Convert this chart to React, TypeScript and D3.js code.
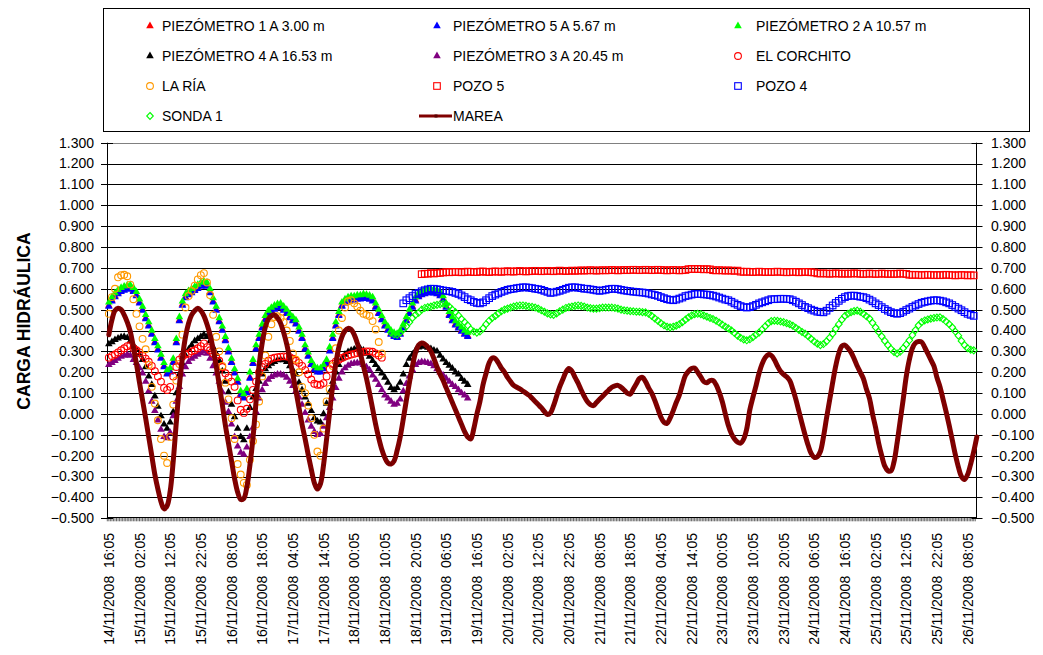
import React from 'react';
import * as d3 from 'd3';

const W = 1043;
const H = 655;

// ---------------- DATA (hourly readings, t = hours since 14/11/2008 16:05) ----------------
const xLabels = [
  '14/11/2008  16:05', '15/11/2008  02:05', '15/11/2008  12:05', '15/11/2008  22:05',
  '16/11/2008  08:05', '16/11/2008  18:05', '17/11/2008  04:05', '17/11/2008  14:05',
  '18/11/2008  00:05', '18/11/2008  10:05', '18/11/2008  20:05', '19/11/2008  06:05',
  '19/11/2008  16:05', '20/11/2008  02:05', '20/11/2008  12:05', '20/11/2008  22:05',
  '21/11/2008  08:05', '21/11/2008  18:05', '22/11/2008  04:05', '22/11/2008  14:05',
  '23/11/2008  00:05', '23/11/2008  10:05', '23/11/2008  20:05', '24/11/2008  06:05',
  '24/11/2008  16:05', '25/11/2008  02:05', '25/11/2008  12:05', '25/11/2008  22:05',
  '26/11/2008  08:05',
];
const xLabelHours = [0, 10, 20, 30, 40, 50, 60, 70, 80, 90, 100, 110, 120, 130, 140, 150, 160, 170, 180, 190, 200, 210, 220, 230, 240, 250, 260, 270, 280];
const yTicks = [-0.5, -0.4, -0.3, -0.2, -0.1, 0, 0.1, 0.2, 0.3, 0.4, 0.5, 0.6, 0.7, 0.8, 0.9, 1.0, 1.1, 1.2, 1.3];

const pz1Start = 0;
const pz1 = [0.52,0.545,0.565,0.58,0.59,0.597,0.602,0.603,0.59,0.57,0.535,0.5,0.46,0.425,0.385,0.345,0.31,0.27,0.23,0.195,0.205,0.25,0.345,0.45,0.525,0.56,0.575,0.585,0.595,0.605,0.615,0.62,0.615,0.585,0.54,0.5,0.445,0.405,0.355,0.3,0.25,0.2,0.155,0.095,0.08,0.105,0.175,0.245,0.315,0.365,0.415,0.455,0.48,0.495,0.505,0.513,0.515,0.5,0.485,0.465,0.45,0.435,0.4,0.365,0.315,0.28,0.24,0.215,0.205,0.205,0.22,0.245,0.305,0.365,0.425,0.475,0.52,0.535,0.545,0.55,0.55,0.555,0.555,0.56,0.557,0.553,0.545,0.515,0.485,0.455,0.425,0.405,0.385,0.375,0.37,0.385,0.415,0.45,0.485,0.515,0.545,0.565,0.575,0.58,0.585,0.585,0.583,0.58,0.57,0.55,0.515,0.475,0.45,0.43,0.415,0.4,0.385,0.375];

const pz5Start = 0;
const pz5 = [0.515,0.54,0.56,0.575,0.585,0.592,0.597,0.598,0.585,0.565,0.53,0.495,0.455,0.42,0.38,0.34,0.305,0.265,0.225,0.19,0.2,0.245,0.34,0.445,0.52,0.555,0.57,0.58,0.59,0.60,0.61,0.615,0.61,0.58,0.535,0.495,0.44,0.40,0.35,0.295,0.245,0.195,0.15,0.09,0.075,0.10,0.17,0.24,0.31,0.36,0.41,0.45,0.475,0.49,0.50,0.508,0.51,0.495,0.48,0.46,0.445,0.43,0.395,0.36,0.31,0.275,0.235,0.21,0.20,0.20,0.215,0.24,0.30,0.36,0.42,0.47,0.515,0.53,0.54,0.545,0.545,0.55,0.55,0.555,0.552,0.548,0.54,0.51,0.48,0.45,0.42,0.40,0.38,0.37,0.365,0.38,0.41,0.445,0.48,0.51,0.54,0.56,0.57,0.575,0.58,0.58,0.578,0.575,0.565,0.545,0.51,0.47,0.445,0.425,0.41,0.395,0.38,0.37];

const pz2Start = 0;
const pz2 = [0.535,0.56,0.58,0.595,0.605,0.612,0.617,0.618,0.605,0.585,0.55,0.515,0.475,0.44,0.40,0.36,0.325,0.285,0.245,0.21,0.22,0.265,0.36,0.465,0.54,0.575,0.59,0.60,0.61,0.62,0.63,0.635,0.63,0.60,0.555,0.515,0.46,0.42,0.37,0.315,0.265,0.215,0.17,0.11,0.095,0.12,0.2,0.26,0.33,0.38,0.43,0.47,0.495,0.51,0.52,0.528,0.53,0.515,0.50,0.48,0.465,0.45,0.415,0.38,0.33,0.295,0.255,0.23,0.22,0.22,0.235,0.26,0.32,0.38,0.44,0.49,0.535,0.55,0.56,0.565,0.565,0.57,0.57,0.575,0.572,0.568,0.56,0.53,0.50,0.47,0.44,0.42,0.40,0.39,0.385,0.40,0.43,0.465,0.50,0.53,0.56,0.58,0.59,0.595,0.60,0.60,0.598,0.595,0.585,0.565,0.53,0.49,0.465,0.445,0.43,0.415,0.40,0.39];

const pz4Start = 0;
const pz4 = [0.335,0.345,0.355,0.362,0.368,0.37,0.365,0.35,0.33,0.31,0.285,0.26,0.225,0.18,0.14,0.085,0.035,-0.01,-0.05,-0.07,-0.04,0.01,0.10,0.19,0.24,0.28,0.31,0.33,0.35,0.36,0.37,0.38,0.37,0.35,0.32,0.29,0.255,0.205,0.155,0.105,0.045,-0.015,-0.07,-0.11,-0.125,-0.07,0.03,0.08,0.12,0.155,0.19,0.215,0.23,0.242,0.25,0.258,0.26,0.258,0.25,0.23,0.21,0.19,0.15,0.115,0.08,0.05,0.015,-0.02,-0.035,-0.04,0.0,0.05,0.105,0.155,0.2,0.235,0.265,0.285,0.298,0.305,0.31,0.315,0.313,0.305,0.29,0.275,0.255,0.235,0.215,0.195,0.175,0.15,0.125,0.115,0.125,0.15,0.19,0.235,0.265,0.285,0.305,0.32,0.325,0.323,0.318,0.312,0.305,0.3,0.28,0.262,0.245,0.232,0.218,0.2,0.19,0.168,0.155,0.14];

const pz3Start = 0;
const pz3 = [0.235,0.245,0.255,0.265,0.275,0.28,0.285,0.28,0.26,0.245,0.22,0.195,0.155,0.11,0.06,0.015,-0.03,-0.075,-0.11,-0.115,-0.09,-0.01,0.06,0.13,0.19,0.225,0.25,0.265,0.275,0.285,0.292,0.3,0.29,0.265,0.23,0.195,0.155,0.105,0.055,0.01,-0.05,-0.11,-0.155,-0.185,-0.195,-0.16,-0.11,-0.065,0.01,0.075,0.115,0.145,0.165,0.178,0.185,0.19,0.19,0.185,0.175,0.155,0.135,0.11,0.08,0.045,0.005,-0.03,-0.06,-0.085,-0.1,-0.095,-0.06,-0.02,0.03,0.075,0.125,0.17,0.2,0.22,0.232,0.24,0.243,0.245,0.243,0.235,0.225,0.21,0.185,0.165,0.14,0.115,0.09,0.075,0.06,0.045,0.05,0.07,0.11,0.145,0.18,0.21,0.235,0.245,0.25,0.248,0.245,0.24,0.23,0.215,0.2,0.185,0.17,0.155,0.14,0.13,0.115,0.1,0.09,0.075];

const corchitoStart = 0;
const corchito = [0.27,0.278,0.285,0.295,0.305,0.315,0.325,0.33,0.315,0.305,0.295,0.28,0.265,0.25,0.23,0.205,0.18,0.155,0.125,0.115,0.13,0.18,0.225,0.26,0.275,0.285,0.29,0.3,0.305,0.315,0.325,0.338,0.32,0.305,0.29,0.275,0.255,0.225,0.195,0.175,0.155,0.13,0.065,0.02,0.005,0.025,0.07,0.115,0.155,0.2,0.225,0.24,0.255,0.265,0.27,0.272,0.275,0.276,0.275,0.272,0.265,0.255,0.245,0.23,0.21,0.19,0.165,0.145,0.14,0.14,0.148,0.18,0.215,0.24,0.252,0.26,0.268,0.275,0.28,0.285,0.288,0.292,0.295,0.298,0.3,0.3,0.298,0.29,0.28,0.27];

const riaStart = 0;
const ria = [0.48,0.56,0.60,0.655,0.665,0.667,0.66,0.62,0.55,0.48,0.42,0.36,0.31,0.235,0.13,0.05,-0.03,-0.12,-0.2,-0.235,-0.11,0.045,0.16,0.24,0.38,0.51,0.565,0.59,0.615,0.645,0.665,0.675,0.63,0.57,0.475,0.37,0.3,0.23,0.15,0.07,-0.02,-0.12,-0.24,-0.29,-0.33,-0.34,-0.22,-0.13,-0.05,0.06,0.18,0.28,0.37,0.43,0.465,0.468,0.46,0.44,0.4,0.35,0.29,0.26,0.2,0.13,0.1,0.04,-0.02,-0.1,-0.18,-0.2,-0.07,0.06,0.12,0.23,0.315,0.4,0.46,0.51,0.54,0.545,0.53,0.515,0.495,0.48,0.475,0.47,0.445,0.405,0.345,0.29];

const pozo5Start = 102;
const pozo5 = [0.670,0.672,0.672,0.675,0.673,0.675,0.676,
  0.678,0.680,0.679,0.680,0.681,0.680,0.679,0.680,0.682,0.681,0.680,0.680,0.682,0.683,0.681,0.680,0.682,0.683,0.682,0.681,0.683,0.684,
  0.683,0.682,0.684,0.685,0.684,0.683,0.684,0.685,0.686,0.685,0.684,0.685,0.686,0.685,0.684,0.686,0.687,0.686,0.685,0.686,0.687,0.686,0.687,
  0.688,0.687,0.688,0.689,0.688,0.687,0.688,0.689,0.688,0.689,0.690,0.689,0.688,0.689,0.690,0.689,0.690,0.691,0.690,0.689,0.690,0.691,0.690,0.689,0.690,0.691,0.690,0.689,0.688,0.689,0.690,0.689,0.688,0.689,0.690,
  0.694,0.695,0.694,0.695,0.694,0.693,0.694,0.693,
  0.689,0.688,0.689,0.688,0.687,0.688,0.687,0.686,0.687,
  0.682,0.681,0.682,0.681,0.680,0.681,0.682,0.681,0.680,0.681,0.680,0.681,0.682,0.681,0.680,0.679,0.680,0.681,0.680,0.679,0.680,0.681,0.680,0.679,0.678,
  0.674,0.673,0.674,0.673,0.672,0.673,0.674,0.673,0.672,0.673,0.672,0.673,0.674,0.673,0.672,0.671,0.672,0.673,0.672,0.671,0.672,0.673,0.672,0.671,0.672,0.671,0.672,0.673,0.672,0.671,
  0.667,0.666,0.667,0.666,0.665,0.666,0.667,0.666,0.665,0.666,0.665,0.666,0.667,0.666,0.665,0.664,0.665,0.666,0.665,0.664,0.665,0.664];

const pozo4Start = 96;
const pozo4 = [0.53,0.545,0.555,0.565,0.575,0.58,0.588,0.593,0.597,0.60,0.60,0.598,0.595,0.592,0.59,0.588,0.585,0.58,0.575,0.568,0.56,0.55,0.545,0.537,0.532,0.53,0.535,0.545,0.555,0.565,0.572,0.578,0.585,0.59,0.595,0.598,0.60,0.603,0.605,0.607,0.607,0.605,0.603,0.60,0.598,0.595,0.59,0.585,0.58,0.582,0.586,0.59,0.595,0.6,0.605,0.607,0.607,0.605,0.603,0.6,0.6,0.597,0.595,0.592,0.59,0.592,0.595,0.598,0.6,0.6,0.598,0.595,0.592,0.59,0.588,0.586,0.585,0.583,0.582,0.58,0.577,0.573,0.57,0.566,0.56,0.555,0.55,0.547,0.545,0.548,0.553,0.558,0.565,0.568,0.572,0.575,0.575,0.575,0.573,0.572,0.57,0.567,0.563,0.558,0.553,0.548,0.545,0.538,0.53,0.523,0.517,0.512,0.51,0.512,0.517,0.523,0.53,0.535,0.54,0.545,0.55,0.55,0.551,0.552,0.552,0.551,0.55,0.545,0.538,0.53,0.522,0.513,0.507,0.5,0.495,0.49,0.488,0.487,0.495,0.508,0.52,0.532,0.542,0.552,0.56,0.565,0.567,0.567,0.565,0.562,0.56,0.555,0.548,0.54,0.53,0.522,0.512,0.503,0.495,0.488,0.483,0.48,0.483,0.49,0.498,0.505,0.513,0.52,0.527,0.533,0.537,0.54,0.543,0.545,0.545,0.543,0.54,0.535,0.53,0.522,0.513,0.505,0.497,0.488,0.48,0.475,0.47];

const sondaStart = 92;
const sonda = [0.39,0.382,0.38,0.39,0.405,0.42,0.44,0.46,0.475,0.485,0.5,0.508,0.512,0.515,0.52,0.523,0.526,0.528,0.525,0.515,0.5,0.488,0.472,0.455,0.44,0.425,0.405,0.395,0.39,0.395,0.41,0.43,0.447,0.46,0.47,0.482,0.492,0.5,0.505,0.51,0.515,0.518,0.52,0.52,0.518,0.515,0.513,0.51,0.505,0.497,0.49,0.482,0.477,0.475,0.482,0.492,0.5,0.508,0.512,0.515,0.518,0.52,0.518,0.515,0.51,0.507,0.505,0.505,0.507,0.51,0.51,0.51,0.51,0.508,0.505,0.5,0.497,0.495,0.493,0.492,0.49,0.49,0.488,0.487,0.48,0.47,0.458,0.447,0.435,0.425,0.418,0.415,0.418,0.423,0.43,0.44,0.452,0.463,0.472,0.478,0.48,0.478,0.472,0.466,0.46,0.455,0.447,0.438,0.428,0.418,0.41,0.4,0.388,0.375,0.365,0.357,0.353,0.358,0.368,0.38,0.39,0.405,0.42,0.435,0.445,0.447,0.446,0.443,0.44,0.435,0.43,0.423,0.413,0.403,0.393,0.385,0.373,0.36,0.347,0.337,0.33,0.335,0.348,0.365,0.385,0.408,0.43,0.452,0.47,0.48,0.488,0.493,0.495,0.49,0.48,0.468,0.457,0.437,0.415,0.393,0.372,0.35,0.33,0.312,0.297,0.29,0.298,0.315,0.333,0.353,0.378,0.402,0.425,0.44,0.448,0.453,0.457,0.46,0.462,0.463,0.455,0.443,0.43,0.415,0.395,0.375,0.35,0.33,0.315,0.308,0.305];

const mareaStart = 0;
const marea = [
  0.38,0.45,0.495,0.507,0.50,0.475,0.44,0.395,0.32,0.24,
  0.15,0.065,-0.02,-0.11,-0.20,-0.29,-0.36,-0.42,-0.455,-0.44,
  -0.37,-0.225,-0.04,0.135,0.27,0.37,0.435,0.475,0.495,0.507,
  0.495,0.47,0.43,0.38,0.31,0.23,0.14,0.045,-0.055,-0.14,
  -0.225,-0.31,-0.375,-0.41,-0.405,-0.35,-0.245,-0.115,0.06,0.235,
  0.34,0.415,0.455,0.47,0.475,0.46,0.435,0.39,0.335,0.265,
  0.19,0.11,0.03,-0.05,-0.12,-0.195,-0.265,-0.33,-0.36,-0.335,
  -0.245,-0.12,0.01,0.135,0.24,0.32,0.37,0.398,0.41,0.405,
  0.38,0.34,0.29,0.23,0.17,0.10,0.025,-0.05,-0.115,-0.17,
  -0.21,-0.235,-0.24,-0.225,-0.175,-0.11,-0.025,0.065,0.15,0.23,
  0.295,0.33,0.34,0.335,0.32,0.30,0.265,0.225,0.19,0.16,
  0.125,0.09,0.055,0.02,-0.015,-0.05,-0.085,-0.11,-0.12,-0.07,
  0.00,0.06,0.14,0.195,0.245,0.268,0.265,0.245,0.22,0.2,
  0.175,0.155,0.137,0.128,0.12,0.11,0.10,0.09,0.075,0.06,
  0.045,0.03,0.012,-0.003,0.005,0.04,0.085,0.13,0.165,0.2,
  0.218,0.205,0.175,0.148,0.115,0.085,0.06,0.045,0.04,0.055,
  0.07,0.085,0.1,0.115,0.128,0.135,0.137,0.128,0.115,0.1,
  0.095,0.12,0.145,0.17,0.175,0.155,0.125,0.1,0.065,0.025,
  -0.015,-0.04,-0.045,-0.02,0.015,0.055,0.09,0.14,0.185,0.205,
  0.218,0.22,0.2,0.178,0.155,0.15,0.16,0.16,0.14,0.105,
  0.06,0.0,-0.055,-0.095,-0.12,-0.135,-0.14,-0.12,-0.07,0.02,
  0.08,0.135,0.195,0.24,0.27,0.284,0.28,0.26,0.23,0.205,
  0.19,0.178,0.16,0.12,0.07,0.013,-0.045,-0.1,-0.15,-0.19,
  -0.208,-0.205,-0.18,-0.11,-0.02,0.065,0.15,0.23,0.29,0.325,
  0.33,0.315,0.295,0.265,0.23,0.2,0.17,0.12,0.075,0.0,
  -0.065,-0.14,-0.2,-0.25,-0.272,-0.273,-0.23,-0.14,-0.035,0.07,
  0.18,0.26,0.315,0.34,0.347,0.345,0.32,0.29,0.26,0.23,
  0.175,0.13,0.07,0.01,-0.055,-0.125,-0.195,-0.255,-0.3,-0.314,
  -0.29,-0.24,-0.18,-0.11,
];

// ---------------- SCALES ----------------
const PL = 107, PR = 976.5, PT = 142.7, PB = 518.3;
const x = d3.scaleLinear().domain([-0.6, 282.9]).range([PL, PR]);
const y = d3.scaleLinear().domain([-0.5, 1.3]).range([PB, PT]);

type Pt = { t: number; v: number };
const pts = (start: number, vals: number[]): Pt[] => vals.map((v, i) => ({ t: start + i, v }));

const FONT = '"Liberation Sans", Arial, sans-serif';

const triPath = d3.symbol().type(d3.symbolTriangle).size(25)() as string;
const sqHalf = 3.3;
const diaPath = 'M0,-3.5L3.3,0L0,3.5L-3.3,0Z';

type MarkerKind = 'tri' | 'circle' | 'square' | 'diamond';

function Marker({ kind, color, cx, cy }: { kind: MarkerKind; color: string; cx: number; cy: number }) {
  if (kind === 'tri') return <path d={triPath} transform={`translate(${cx},${cy})`} fill={color} />;
  if (kind === 'circle') return <circle cx={cx} cy={cy} r={3.4} fill="none" stroke={color} strokeWidth={1.1} />;
  if (kind === 'square')
    return <rect x={cx - sqHalf} y={cy - sqHalf} width={sqHalf * 2} height={sqHalf * 2} fill="none" stroke={color} strokeWidth={1.1} />;
  return <path d={diaPath} transform={`translate(${cx},${cy})`} fill="none" stroke={color} strokeWidth={1.1} />;
}

const series: { name: string; kind: MarkerKind; color: string; data: Pt[] }[] = [
  { name: 'PIEZÓMETRO 1 A 3.00 m', kind: 'tri', color: '#FF0000', data: pts(pz1Start, pz1) },
  { name: 'PIEZÓMETRO 5 A 5.67 m', kind: 'tri', color: '#0000FF', data: pts(pz5Start, pz5) },
  { name: 'PIEZÓMETRO 2 A 10.57 m', kind: 'tri', color: '#00FF00', data: pts(pz2Start, pz2) },
  { name: 'PIEZÓMETRO 4 A 16.53 m', kind: 'tri', color: '#000000', data: pts(pz4Start, pz4) },
  { name: 'PIEZÓMETRO 3 A 20.45 m', kind: 'tri', color: '#800080', data: pts(pz3Start, pz3) },
  { name: 'EL CORCHITO', kind: 'circle', color: '#FF0000', data: pts(corchitoStart, corchito) },
  { name: 'LA RÍA', kind: 'circle', color: '#FF9900', data: pts(riaStart, ria) },
  { name: 'POZO 5', kind: 'square', color: '#FF0000', data: pts(pozo5Start, pozo5) },
  { name: 'POZO 4', kind: 'square', color: '#0000FF', data: pts(pozo4Start, pozo4) },
  { name: 'SONDA 1', kind: 'diamond', color: '#00FF00', data: pts(sondaStart, sonda) },
];

const mareaData = pts(mareaStart, marea);
const mareaLine = d3
  .line<Pt>()
  .x((d) => x(d.t))
  .y((d) => y(d.v))
  .curve(d3.curveCatmullRom.alpha(0.5));

const minorTicks = d3.range(-0.5, 283, 0.5);

const legendRows = [26, 56, 86, 116];
const legendMarkerX = [150, 437, 738];
const legendTextX = [162, 453, 756];

export default function App() {
  return (
    <svg width={W} height={H} style={{ position: 'absolute', left: 0, top: 0, background: '#fff' }} fontFamily={FONT}>
      <rect x={0} y={0} width={W} height={H} fill="#fff" />

      {/* Legend */}
      <rect x={103.5} y={8.5} width={926} height={123} fill="#fff" stroke="#000" strokeWidth={1} />
      {series.map((s, i) => {
        const row = Math.floor(i / 3);
        const col = i % 3;
        const ly = legendRows[row];
        return (
          <g key={s.name}>
            <Marker kind={s.kind} color={s.color} cx={legendMarkerX[col]} cy={ly} />
            <text x={legendTextX[col]} y={ly} dy="0.36em" fontSize={14} fill="#000">
              {s.name}
            </text>
          </g>
        );
      })}
      <g>
        <line x1={419} x2={452} y1={legendRows[3]} y2={legendRows[3]} stroke="#800000" strokeWidth={3} />
        <rect x={434.5} y={legendRows[3] - 1.5} width={3} height={3} fill="#5a0000" />
        <text x={453} y={legendRows[3]} dy="0.36em" fontSize={14} fill="#000">
          MAREA
        </text>
      </g>

      {/* Gridlines */}
      {yTicks.map((v) =>
        v > -0.5 ? (
          <line
            key={'g' + v}
            x1={PL}
            x2={PR}
            y1={Math.round(y(v)) + 0.5}
            y2={Math.round(y(v)) + 0.5}
            stroke={v >= 1.29 ? '#808080' : '#000'}
            strokeWidth={1}
          />
        ) : null
      )}

      {/* Left axis */}
      <line x1={PL + 0.5} x2={PL + 0.5} y1={PT} y2={PB} stroke="#000" />
      {yTicks.map((v) => (
        <g key={'l' + v}>
          <line x1={PL - 6} x2={PL + 6} y1={Math.round(y(v)) + 0.5} y2={Math.round(y(v)) + 0.5} stroke="#000" />
          <text x={94} y={y(v)} dy="0.35em" textAnchor="end" fontSize={14} fill="#000">
            {d3.format('.3f')(v)}
          </text>
        </g>
      ))}
      {/* Right axis */}
      <line x1={PR} x2={PR} y1={PT} y2={PB} stroke="#000" />
      {yTicks.map((v) => (
        <g key={'r' + v}>
          <line x1={PR - 5} x2={PR + 6} y1={Math.round(y(v)) + 0.5} y2={Math.round(y(v)) + 0.5} stroke="#000" />
          <text x={991} y={y(v)} dy="0.35em" textAnchor="start" fontSize={14} fill="#000">
            {d3.format('.3f')(v)}
          </text>
        </g>
      ))}

      {/* Bottom axis */}
      <line x1={PL} x2={PR} y1={Math.round(PB) - 0.5} y2={Math.round(PB) - 0.5} stroke="#000" />
      {minorTicks.map((t) => (
        <line key={'m' + t} x1={x(t)} x2={x(t)} y1={PB - 1} y2={PB + 3} stroke="#000" strokeWidth={0.6} />
      ))}
      {xLabels.map((lab, i) => (
        <text
          key={lab}
          transform={`translate(${x(xLabelHours[i])},533) rotate(-90)`}
          dy="0.36em"
          textAnchor="end"
          fontSize={14}
          fill="#000"
          style={{ whiteSpace: 'pre' }}
        >
          {lab}
        </text>
      ))}

      {/* Axis title */}
      <text
        transform="translate(24,321) rotate(-90)"
        dy="0.35em"
        textAnchor="middle"
        fontSize={17.5}
        fontWeight="bold"
        fill="#000"
      >
        CARGA HIDRÁULICA
      </text>

      {/* Series markers */}
      <g>
        {series.map((s) => (
          <g key={'s' + s.name}>
            {s.data.map((d) => (
              <Marker key={d.t} kind={s.kind} color={s.color} cx={x(d.t)} cy={y(d.v)} />
            ))}
          </g>
        ))}
      </g>

      {/* Marea line */}
      <path d={mareaLine(mareaData) as string} fill="none" stroke="#800000" strokeWidth={5} strokeLinejoin="round" strokeLinecap="round" />
      {mareaData.map((d) => (
        <rect key={'md' + d.t} x={x(d.t) - 1} y={y(d.v) - 1} width={2} height={2} fill="#6a0000" />
      ))}
    </svg>
  );
}
